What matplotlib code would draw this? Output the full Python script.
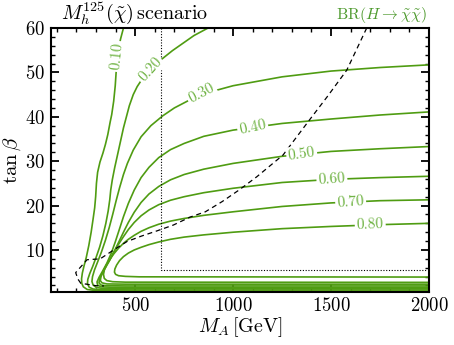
import numpy as np
import matplotlib
matplotlib.use('Agg')
import matplotlib.pyplot as plt
from matplotlib.ticker import MultipleLocator

plt.rcParams['font.family'] = 'serif'
plt.rcParams['font.serif'] = ['cmr10', 'DejaVu Serif']
plt.rcParams['mathtext.fontset'] = 'cm'
plt.rcParams['axes.formatter.use_mathtext'] = True

# BR(H -> chi chi) contours: (M_A [GeV], tan beta)
levels = ['0.10', '0.20', '0.30', '0.40', '0.50', '0.60', '0.70', '0.80']

ma_010 = [440, 425, 412, 404, 398, 390, 380, 372, 360, 348, 335, 320, 308, 302, 298, 293, 285,
          275, 263, 250, 238, 230, 226, 227, 235, 255, 300, 400, 2000]
tb_010 = [60, 57.5, 54.5, 51, 47, 43.5, 40.5, 38.8, 36, 33.8, 31.8, 29.8, 27.5, 25, 22, 19.5, 17,
          14, 11, 8.3, 6.3, 4.8, 3.5, 2.5, 1.7, 1.1, 0.85, 0.77, 0.75]

ma_020 = [872, 800, 745, 690, 636, 600, 577, 540, 510, 490, 470, 455, 440, 425, 410, 395, 383,
          375, 370, 362, 350, 335, 318, 300, 283, 268, 258, 256, 265, 285, 330, 500, 2000]
tb_020 = [60, 58.3, 56.6, 54.9, 53.0, 51.6, 50.6, 48.8, 46.8, 45.0, 42.5, 40.0, 37.5, 34.5, 31.5,
          28.5, 25.8, 23.5, 21.3, 18.8, 16, 13.2, 10.6, 8.3, 6.3, 4.7, 3.4, 2.4, 1.6, 1.2, 1.05, 1.0, 1.0]

ma_030 = [2000, 1750, 1500, 1250, 1000, 900, 800, 700, 640, 580, 530, 490, 460, 440, 420, 402,
          385, 367, 348, 328, 308, 292, 282, 279, 285, 300, 330, 500, 2000]
tb_030 = [51.7, 51.1, 50.3, 49.0, 47.0, 45.8, 44.3, 42.0, 40.2, 38.0, 35.5, 32.5, 29.5, 27, 24,
          21, 18, 15, 12.2, 9.6, 7.3, 5.5, 4.0, 2.9, 2.1, 1.6, 1.35, 1.3, 1.3]

ma_040 = [2000, 1750, 1500, 1250, 1000, 850, 750, 680, 620, 570, 530, 495, 465, 440, 418, 398,
          378, 355, 333, 315, 305, 308, 325, 380, 2000]
tb_040 = [41.1, 40.4, 39.5, 38.5, 37.0, 35.6, 34.0, 32.6, 30.8, 28.6, 26.3, 23.5, 20.5, 17.5,
          14.5, 11.8, 9.3, 7.0, 5.2, 3.8, 2.8, 2.1, 1.7, 1.6, 1.6]

ma_050 = [2000, 1750, 1500, 1250, 1000, 850, 750, 680, 620, 570, 530, 495, 465, 440, 415, 392,
          370, 348, 330, 318, 315, 325, 350, 450, 2000]
tb_050 = [33.3, 32.8, 32.2, 31.1, 29.5, 28.2, 27.0, 25.8, 24.3, 22.6, 20.7, 18.5, 16.2, 14.0,
          11.7, 9.6, 7.7, 6.0, 4.6, 3.5, 2.6, 2.1, 1.95, 1.9, 1.9]

ma_060 = [2000, 1750, 1500, 1250, 1000, 850, 750, 680, 620, 570, 530, 495, 465, 440, 415, 392,
          372, 352, 336, 325, 322, 330, 355, 450, 2000]
tb_060 = [26.6, 26.3, 25.9, 25.2, 23.9, 22.9, 22.0, 21.2, 20.2, 19.0, 17.7, 16.2, 14.6, 13.0,
          11.3, 9.6, 8.0, 6.5, 5.2, 4.0, 3.1, 2.6, 2.35, 2.3, 2.3]

ma_070 = [2000, 1750, 1500, 1250, 1000, 850, 750, 680, 620, 570, 530, 495, 465, 440, 415, 392,
          372, 355, 343, 338, 342, 355, 385, 450, 2000]
tb_070 = [21.3, 21.1, 20.6, 19.8, 18.6, 17.8, 17.1, 16.5, 15.8, 15.0, 14.2, 13.3, 12.4, 11.5,
          10.4, 9.2, 8.0, 6.8, 5.6, 4.5, 3.6, 3.1, 2.85, 2.75, 2.7]

ma_080 = [2000, 1750, 1500, 1250, 1000, 850, 750, 680, 620, 570, 530, 495, 465, 440, 420, 405,
          396, 394, 400, 415, 450, 520, 2000]
tb_080 = [16.0, 15.7, 15.3, 14.8, 14.0, 13.4, 12.9, 12.4, 11.8, 11.2, 10.6, 10.0, 9.3, 8.5, 7.6,
          6.6, 5.7, 5.0, 4.5, 4.2, 4.05, 3.95, 3.9]

contour_ma = [ma_010, ma_020, ma_030, ma_040, ma_050, ma_060, ma_070, ma_080]
contour_tb = [tb_010, tb_020, tb_030, tb_040, tb_050, tb_060, tb_070, tb_080]

# where the contour labels sit
label_ma = [408, 577, 840, 1100, 1350, 1504, 1600, 1700]
label_tb = [53.6, 50.6, 45.2, 37.6, 31.6, 26.0, 20.8, 15.6]

# dashed and dotted black lines
dash_ma = [1682, 1580, 1480, 1383, 1255, 1121, 1030, 944, 858, 780, 694, 611, 530, 458, 390,
           321, 254, 196, 208, 222, 300, 340]
dash_tb = [60, 50.5, 44.5, 38.9, 31.4, 26.5, 23.5, 20.9, 18.6, 17.4, 15.6, 14.3, 13.1, 11.9,
           10.0, 8.0, 7.8, 4.9, 3.4, 2.5, 1.95, 1.9]
dot_ma = [634, 634, 1990]
dot_tb = [60, 5.5, 5.5]

line_green = '#4f9c12'
label_green = '#6fb343'

fig = plt.figure(figsize=(4.54, 3.45), dpi=100)
ax = fig.add_axes([51 / 454, 1 - 291.7 / 345, 378 / 454, 263.7 / 345])
ax.set_xlim(70, 2000)
ax.set_ylim(0.6, 60)

for xs, ys in zip(contour_ma, contour_tb):
    ax.plot(xs, ys, color=line_green, lw=1.2, solid_joinstyle='round')

ax.plot(dash_ma, dash_tb, color='black', lw=0.9, ls=(0, (4, 3)))
ax.plot(dot_ma, dot_tb, color='black', lw=0.8, ls=(0, (1, 1.5)))

# contour labels, rotated along the line in screen space
for xs, ys, lab, lx, ly in zip(contour_ma, contour_tb, levels, label_ma, label_tb):
    pts = ax.transData.transform(np.column_stack([xs, ys]))
    p0 = ax.transData.transform((lx, ly))
    i = np.argmin(np.hypot(pts[:, 0] - p0[0], pts[:, 1] - p0[1]))
    j = i + 1 if i + 1 < len(pts) else i - 1
    a, b = sorted([i, j])
    dx, dy = pts[b] - pts[a]
    ang = np.degrees(np.arctan2(dy, dx))
    if ang > 90:
        ang -= 180
    if ang < -90:
        ang += 180
    ax.text(lx, ly, lab, color=label_green, fontsize=11, rotation=ang,
            rotation_mode='anchor', ha='center', va='center',
            bbox=dict(boxstyle='square,pad=0.12', fc='white', ec='none'))

ax.xaxis.set_major_locator(MultipleLocator(500))
ax.xaxis.set_minor_locator(MultipleLocator(100))
ax.yaxis.set_major_locator(MultipleLocator(10))
ax.yaxis.set_minor_locator(MultipleLocator(2))
ax.tick_params(which='both', direction='in', top=True, right=True, labelsize=13.5)
ax.tick_params(which='major', length=6, width=1.3, pad=4)
ax.tick_params(which='minor', length=3, width=1.0)
for s in ax.spines.values():
    s.set_linewidth(1.5)

ax.set_xlabel(r'$M_A\,[\mathrm{GeV}]$', fontsize=14.5, labelpad=0)
ax.set_ylabel(r'$\tan\beta$', fontsize=15, labelpad=2)

fig.text(61 / 454, 1 - 13 / 345, r'$M_h^{125}(\tilde{\chi})\,\mathrm{scenario}$',
         fontsize=14.5, ha='left', va='center')
fig.text(427 / 454, 1 - 15 / 345, r'$\mathrm{BR}(H\to\tilde{\chi}\tilde{\chi})$',
         fontsize=11.5, ha='right', va='center', color='#4e9a2e')

fig.savefig('out.png', dpi=100)
